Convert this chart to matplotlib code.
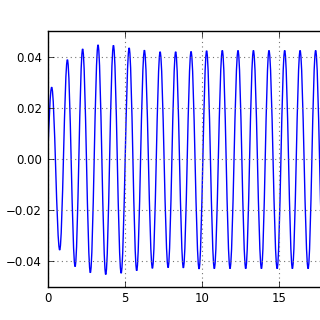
import matplotlib
matplotlib.use('Agg')
import matplotlib.pyplot as plt
from matplotlib.path import Path
from matplotlib.patches import PathPatch


# signal start and its turning points (peaks / troughs)
t_start = 0.0
y_start = 0.0
t_ext = [0.26, 0.78, 1.28, 1.78, 2.27, 2.77, 3.27, 3.77, 4.27, 4.77,
         5.29, 5.78, 6.28, 6.80, 7.30, 7.82, 8.31, 8.81, 9.31, 9.83,
         10.32, 10.82, 11.34, 11.84, 12.36, 12.86, 13.36, 13.88, 14.37, 14.90,
         15.39, 15.89, 16.39, 16.91, 17.40, 17.91]
y_ext = [0.0281, -0.0356, 0.0389, -0.0421, 0.0431, -0.0445, 0.0447, -0.0452, 0.0445, -0.0447,
         0.0435, -0.0437, 0.0426, -0.0428, 0.0420, -0.0425, 0.0420, -0.0426, 0.0421, -0.0430,
         0.0424, -0.0429, 0.0425, -0.0429, 0.0425, -0.0429, 0.0425, -0.0429, 0.0425, -0.0429,
         0.0425, -0.0429, 0.0425, -0.0429, 0.0425, -0.0429]

xticks = [0, 5, 10, 15]
yticks = [-0.04, -0.02, 0.00, 0.02, 0.04]


def smooth_path(t0, y0, ts, ys):
    # cubic bezier segments, flat at every turning point
    verts = [(t0, y0)]
    codes = [Path.MOVETO]
    dt = ts[0] - t0
    dy = ys[0] - y0
    verts += [(t0 + 0.33 * dt, y0 + 0.52 * dy), (t0 + 0.64 * dt, ys[0]), (ts[0], ys[0])]
    codes += [Path.CURVE4] * 3
    h = 0.3634
    for i in range(1, len(ts)):
        a, b = ts[i - 1], ts[i]
        d = b - a
        verts += [(a + h * d, ys[i - 1]), (b - h * d, ys[i]), (b, ys[i])]
        codes += [Path.CURVE4] * 3
    return Path(verts, codes)


plt.rcParams['font.size'] = 8.5
plt.rcParams['font.family'] = 'DejaVu Sans'

fig = plt.figure(figsize=(3.2, 3.2), dpi=100)
ax = fig.add_axes([0.149, 0.104, 0.9625, 0.798])

ax.add_patch(PathPatch(smooth_path(t_start, y_start, t_ext, y_ext),
                       fill=False, edgecolor='b', linewidth=1.0))

ax.set_xlim(0, 20)
ax.set_ylim(-0.05, 0.05)
ax.set_xticks(xticks)
ax.set_yticks(yticks)
ax.set_xticklabels([str(v) for v in xticks])
ax.set_yticklabels(['%.2f' % v if v >= 0 else '\u2212%.2f' % -v for v in yticks])
ax.tick_params(direction='in', length=4, width=0.5, top=True, right=True, pad=4)
ax.grid(True, color='0.45', linestyle=(0, (1, 3)), linewidth=0.8)
for s in ax.spines.values():
    s.set_linewidth(1.0)

fig.savefig('out.png', dpi=100)
